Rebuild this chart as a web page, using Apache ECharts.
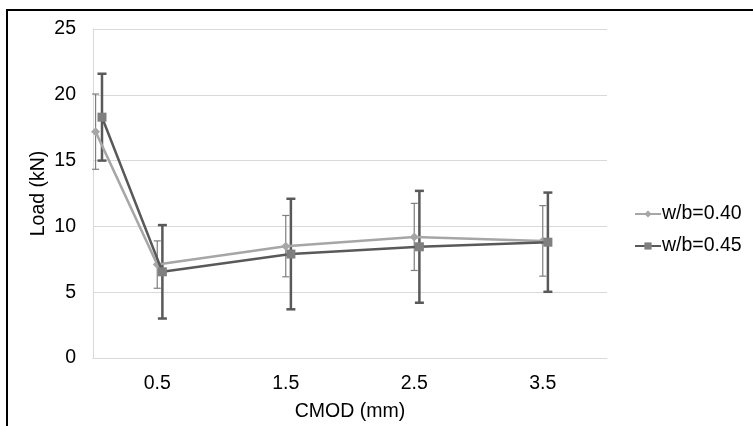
<!DOCTYPE html>
<html>
<head>
<meta charset="utf-8">
<script src="https://cdn.jsdelivr.net/npm/echarts@6/dist/echarts.min.js"></script>
<style>
  html, body { margin: 0; padding: 0; background: #fff; overflow: hidden; }
  #frame { position: absolute; left: 6px; top: 9px; width: 800px; height: 500px; border: 2px solid #000; }
  #main { position: absolute; left: 0; top: 0; width: 753px; height: 426px; }
</style>
</head>
<body>
<div id="frame"></div>
<div id="main"></div>
<script>
// CMOD positions (dark series is nudged right a little in the original)
const x040 = [0.02, 0.5, 1.5, 2.5, 3.5];
const x045 = [0.07, 0.54, 1.54, 2.54, 3.54];
// mean load (kN) and standard deviation
const load040 = [17.2, 7.1, 8.5, 9.2, 8.9];
const sd040 = [2.86, 1.8, 2.33, 2.55, 2.68];
const load045 = [18.3, 6.55, 7.9, 8.45, 8.8];
const sd045 = [3.3, 3.55, 4.2, 4.25, 3.77];
const xTicks = [0.5, 1.5, 2.5, 3.5];

const font = "Liberation Sans, Arial, sans-serif";
const light = "#a6a6a6";
const dark = "#595959";

function pairs(xs, ys) {
  return xs.map((x, i) => [x, ys[i]]);
}

function errData(xs, ys, sd) {
  return xs.map((x, i) => [x, ys[i] - sd[i], ys[i] + sd[i]]);
}

function errSeries(name, data, color, width, cap) {
  return {
    name: name,
    type: "custom",
    z: 1,
    silent: true,
    data: data,
    renderItem: function (params, api) {
      let lo = api.coord([api.value(0), api.value(1)]);
      let hi = api.coord([api.value(0), api.value(2)]);
      let style = { stroke: color, lineWidth: width, fill: null };
      return {
        type: "group",
        children: [
          { type: "line", shape: { x1: lo[0], y1: lo[1], x2: hi[0], y2: hi[1] }, style: style },
          { type: "line", shape: { x1: lo[0] - cap, y1: lo[1], x2: lo[0] + cap, y2: lo[1] }, style: style },
          { type: "line", shape: { x1: hi[0] - cap, y1: hi[1], x2: hi[0] + cap, y2: hi[1] }, style: style }
        ]
      };
    }
  };
}

let chart = echarts.init(document.getElementById("main"));
chart.setOption({
  backgroundColor: "transparent",
  animation: false,
  grid: { left: 93, right: 146, top: 29, bottom: 68, outerBoundsMode: "none" },
  legend: {
    data: ["w/b=0.40", "w/b=0.45"],
    orient: "vertical",
    left: 629,
    top: 199,
    itemWidth: 26,
    itemHeight: 9,
    itemGap: 12,
    textStyle: { fontFamily: font, fontSize: 19.5, color: "#000", padding: [0, 0, 0, -4] }
  },
  xAxis: {
    type: "value",
    min: 0,
    max: 4,
    interval: 0.5,
    name: "CMOD (mm)",
    nameLocation: "middle",
    nameGap: 44,
    nameMoveOverlap: false,
    nameTextStyle: { fontFamily: font, fontSize: 19.5, color: "#000" },
    axisLine: { lineStyle: { color: "#d9d9d9", width: 1 } },
    axisTick: { show: false },
    splitLine: { show: false },
    axisLabel: {
      fontFamily: font,
      fontSize: 19.5,
      color: "#000",
      margin: 16,
      formatter: function (v) {
        return xTicks.indexOf(v) >= 0 ? String(v) : "";
      }
    }
  },
  yAxis: {
    type: "value",
    min: 0,
    max: 25,
    interval: 5,
    name: "Load (kN)",
    nameLocation: "middle",
    nameGap: 44,
    nameMoveOverlap: false,
    nameTextStyle: { fontFamily: font, fontSize: 19.5, color: "#000" },
    axisLine: { show: true, lineStyle: { color: "#d9d9d9", width: 1 } },
    axisTick: { show: false },
    splitLine: { lineStyle: { color: "#d9d9d9", width: 1 } },
    axisLabel: { fontFamily: font, fontSize: 19.5, color: "#000", margin: 17 }
  },
  series: [
    errSeries("err040", errData(x040, load040, sd040), "#7f7f7f", 1.2, 3.5),
    errSeries("err045", errData(x045, load045, sd045), dark, 2.5, 4.5),
    {
      name: "w/b=0.40",
      type: "line",
      z: 2,
      data: pairs(x040, load040),
      symbol: "diamond",
      symbolSize: 9,
      lineStyle: { color: light, width: 2.5 },
      itemStyle: { color: light }
    },
    {
      name: "w/b=0.45",
      type: "line",
      z: 3,
      data: pairs(x045, load045),
      symbol: "rect",
      symbolSize: 9,
      lineStyle: { color: dark, width: 2.5 },
      itemStyle: { color: "#7f7f7f" }
    }
  ]
});
</script>
</body>
</html>
